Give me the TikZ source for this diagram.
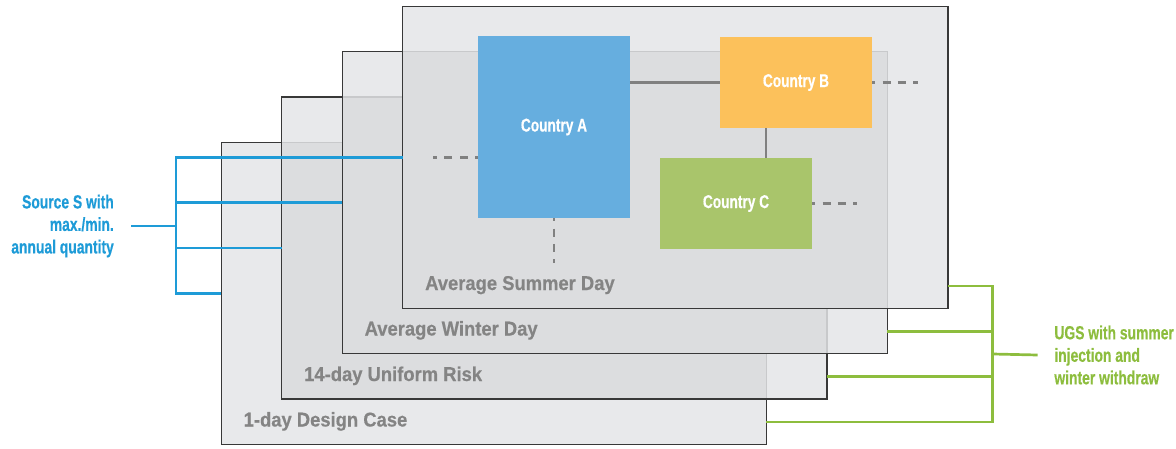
\documentclass[tikz,border=0pt]{standalone}
\usepackage{fontspec}
\setmainfont{Liberation Sans}
\newfontfamily\notefont[FakeStretch=0.73, FakeBold=0.4]{Liberation Sans}
\newfontfamily\ctyfont[FakeStretch=0.74, FakeBold=0.4]{Liberation Sans}
\newfontfamily\layerfont[FakeStretch=0.92, FakeBold=0.4]{Liberation Sans}
\usetikzlibrary{calc}

\definecolor{layerfill}{HTML}{E8E9EB}
\definecolor{overlapfill}{HTML}{DCDDDF}
\definecolor{faintedge}{HTML}{C8C9CB}
\definecolor{edgegrey}{HTML}{383838}
\definecolor{labelgrey}{HTML}{848484}
\definecolor{linkgrey}{HTML}{808080}
\definecolor{srcblue}{HTML}{1E9BD7}
\definecolor{ugsgreen}{HTML}{8DBD3E}
\definecolor{ctyA}{HTML}{66AEDF}
\definecolor{ctyB}{HTML}{FCC15B}
\definecolor{ctyC}{HTML}{A9C56B}

\tikzset{
  layerbox/.style={fill=layerfill, draw=none, inner sep=0pt, anchor=north west,
    minimum width=544.7pt, minimum height=301.7pt},
  coveredge/.style={draw=faintedge, line width=1.4pt},
  layeredge/.style={draw=edgegrey, line width=1.3pt, line join=miter},
  layerlabel/.style={text=labelgrey, inner sep=0pt, anchor=base west,
    font=\layerfont\bfseries\fontsize{20}{23}\selectfont},
  country/.style={draw=none, text=white, inner sep=0pt, minimum width=152pt,
    font=\ctyfont\bfseries\fontsize{18.5}{21}\selectfont},
  link/.style={draw=linkgrey, line width=2.6pt},
  dashlink/.style={draw=linkgrey, line width=2.6pt, dash pattern=on 8pt off 7.3pt, dash phase=5pt},
  srcline/.style={draw=srcblue, line width=2.7pt, line join=miter},
  ugsline/.style={draw=ugsgreen, line width=2.7pt, line join=miter},
  notelabel/.style={inner ysep=0pt, font=\notefont\bfseries\fontsize{19}{22.5}\selectfont},
}

\begin{document}
\begin{tikzpicture}[x=1pt, y=-1pt]
\useasboundingbox (0,0) rectangle (1176,448);

% the four stacked scenario sheets
\node[layerbox] (l1) at (221.3,142.3) {};
\node[layerbox] (l2) at (281.8,97.0) {};
\node[layerbox] (l3) at (342.3,51.7) {};
\node[layerbox] (l4) at (402.8,6.4) {};

% areas where a sheet lies over the one behind it
\fill[overlapfill] (l2.west |- l1.north) rectangle (l1.east |- l2.south);
\fill[overlapfill] (l3.west |- l2.north) rectangle (l2.east |- l3.south);
\fill[overlapfill] (l4.west |- l3.north) rectangle (l3.east |- l4.south);

% edges showing through exactly one sheet
\draw[coveredge] (l2.west |- l1.north) -- (l3.west |- l1.north);
\draw[coveredge] (l1.east |- l2.south) -- (l1.east |- l3.south);
\draw[coveredge] (l3.west |- l2.north) -- (l4.west |- l2.north);
\draw[coveredge] (l2.east |- l3.south) -- (l2.east |- l4.south);
\draw[coveredge] (l4.west |- l3.north) -- (l3.north east) -- (l3.east |- l4.south);

% visible sheet edges
\draw[layeredge] (l2.west |- l1.north) -- (l1.north west) -- (l1.south west) -- (l1.south east) -- (l1.east |- l2.south);
\draw[layeredge] (l3.west |- l2.north) -- (l2.north west) -- (l2.south west) -- (l2.south east) -- (l2.east |- l3.south);
\draw[layeredge] (l4.west |- l3.north) -- (l3.north west) -- (l3.south west) -- (l3.south east) -- (l3.east |- l4.south);
\draw[layeredge] (l4.north west) rectangle (l4.south east);

% sheet titles
\node[layerlabel] (t4) at (425.0,290.0) {Average Summer Day};
\node[layerlabel] (t3) at (364.5,335.5) {Average Winter Day};
\node[layerlabel] (t2) at (304.0,381.0) {14-day Uniform Risk};
\node[layerlabel] (t1) at (243.5,426.5) {1-day Design Case};

% countries
\node[country, fill=ctyA, minimum height=182pt] (ca) at (554,127) {Country A};
\node[country, fill=ctyB, minimum height=91pt] (cb) at (796,82.5) {Country B};
\node[country, fill=ctyC, minimum height=91pt] (cc) at (736,203.5) {Country C};

% links between countries
\draw[link] (cb.west) -- (cb.west -| ca.east);
\draw[link] ([xshift=30pt]cc.north) -- ([xshift=30pt]cc.north |- cb.south);

% open links to further countries
\coordinate (openA) at (433,157.3);
\coordinate (openAs) at (554,262.5);
\coordinate (openB) at (918,82.5);
\coordinate (openC) at (857,203.5);
\draw[dashlink] (openA -| ca.west) -- (openA);
\draw[dashlink] (ca.south) -- (openAs);
\draw[dashlink] (cb.east) -- (openB);
\draw[dashlink] (cc.east) -- (openC);

% source annotation
\node[notelabel, text=srcblue, align=right, anchor=east, inner xsep=17pt] (src) at (131,226)
  {Source S with\\max./min.\\annual quantity};
\coordinate (sbus) at (176,226);
\draw[srcline] (l4.west) -- (l4.west -| sbus) -- (l1.west -| sbus) -- (l1.west);
\draw[srcline] (l3.west) -- (l3.west -| sbus);
\draw[srcline] (l2.west) -- (l2.west -| sbus);
\draw[srcline] (src.east) -- (sbus);

% storage annotation
\node[notelabel, text=ugsgreen, align=left, anchor=west, inner xsep=16.5pt] (ugs) at (1037.7,355)
  {UGS with summer\\injection and\\winter withdraw};
\coordinate (gbus) at (992.7,354);
\coordinate (g4) at ([yshift=22.5pt]l4.south east);
\coordinate (g3) at ([yshift=22.5pt]l3.south east);
\coordinate (g2) at ([yshift=22.5pt]l2.south east);
\coordinate (g1) at ([yshift=22.5pt]l1.south east);
\draw[ugsline] (g4) -- (g4 -| gbus) -- (g1 -| gbus) -- (g1);
\draw[ugsline] (g3) -- (g3 -| gbus);
\draw[ugsline] (g2) -- (g2 -| gbus);
\draw[ugsline] (ugs.west) -- (gbus);
\end{tikzpicture}
\end{document}
